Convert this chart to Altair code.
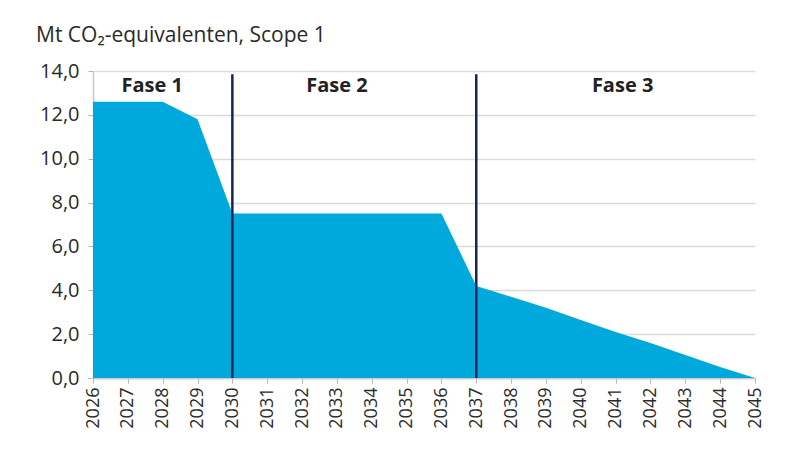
import altair as alt
import pandas as pd

years = list(range(2026, 2046))
emissions = [12.6, 12.6, 12.6, 11.8, 7.5, 7.5, 7.5, 7.5, 7.5, 7.5, 7.5,
             4.2, 3.7, 3.2, 2.65, 2.1, 1.6, 1.05, 0.5, 0.0]

phase_years = [2030, 2037]
phase_bottom = [0.0, 0.0]
phase_top = [13.85, 13.85]

phase_labels = ["Fase 1", "Fase 2", "Fase 3"]
phase_label_x = [2027.7, 2033.0, 2041.2]
phase_label_y = [13.3, 13.3, 13.3]

title_text = ["Mt CO₂-equivalenten, Scope 1"]

y_ticks = [0, 2, 4, 6, 8, 10, 12, 14]

FONT = "Open Sans"

df = pd.DataFrame({"year": years, "value": emissions})
df_rules = pd.DataFrame({"year": phase_years, "bottom": phase_bottom, "top": phase_top})
df_labels = pd.DataFrame({"label": phase_labels, "x": phase_label_x, "y": phase_label_y})
df_title = pd.DataFrame({"t": title_text})

xscale = alt.Scale(domain=[2026, 2045], nice=False, zero=False)
yscale = alt.Scale(domain=[0, 14], nice=False)

xaxis = alt.Axis(values=years, format="d", labelAngle=-90, title=None,
                 grid=False, labelFontSize=18, labelFont=FONT,
                 labelColor="#2a2a2a", tickColor="#b5b5b5", tickSize=5,
                 domainColor="#c8c8c8", domainWidth=1.5, labelPadding=4,
                 labelOverlap=False, labelFlush=False)
yaxis = alt.Axis(values=y_ticks, title=None, grid=True, gridColor="#dadada",
                 gridWidth=1.5, labelFontSize=20, labelFont=FONT,
                 labelColor="#2a2a2a", tickColor="#b5b5b5", tickSize=5,
                 domainColor="#c8c8c8", domainWidth=1.5, labelPadding=9,
                 labelOverlap=False,
                 labelExpr="replace(format(datum.value, '.1f'), '.', ',')")

area = alt.Chart(df).mark_area(color="#00a9db", opacity=1).encode(
    x=alt.X("year:Q", scale=xscale, axis=xaxis),
    y=alt.Y("value:Q", scale=yscale, axis=yaxis),
)

rules = alt.Chart(df_rules).mark_rule(color="#15245e", strokeWidth=2.5).encode(
    x=alt.X("year:Q", scale=xscale, axis=xaxis),
    y=alt.Y("bottom:Q", scale=yscale, axis=yaxis),
    y2=alt.Y2("top:Q"),
)

labels = alt.Chart(df_labels).mark_text(
    font=FONT, fontSize=20, fontWeight="bold", color="#222222",
    align="center", baseline="middle"
).encode(
    x=alt.X("x:Q", scale=xscale, axis=xaxis),
    y=alt.Y("y:Q", scale=yscale, axis=yaxis),
    text="label:N",
)

title = alt.Chart(df_title).mark_text(
    font=FONT, fontSize=21, color="#2a2a2a", align="left", baseline="alphabetic"
).encode(
    x=alt.value(-57),
    y=alt.value(-29),
    text="t:N",
)

chart = alt.layer(area, rules, labels, title).properties(
    width=662, height=307,
    autosize=alt.AutoSizeParams(type="none"),
    padding={"left": 85, "top": 63, "right": 26, "bottom": 70},
    background="white",
).configure_view(stroke=None)

chart.save("out.html", embed_options={"renderer": "svg", "actions": False})
